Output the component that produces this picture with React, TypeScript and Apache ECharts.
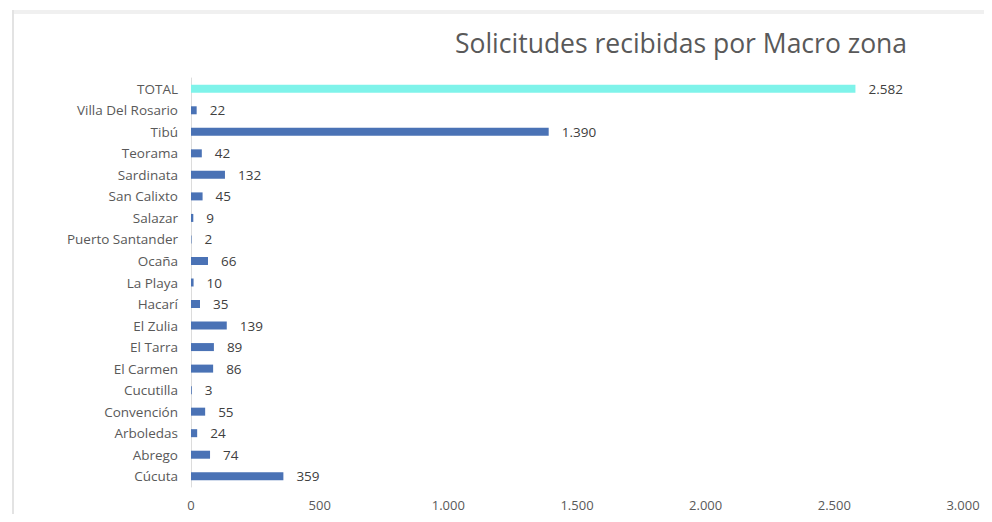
import React, { useEffect, useRef } from "react";
import * as echarts from "echarts";

const categories = [
  "Cúcuta", "Abrego", "Arboledas", "Convención", "Cucutilla", "El Carmen", "El Tarra",
  "El Zulia", "Hacarí", "La Playa", "Ocaña", "Puerto Santander", "Salazar", "San Calixto",
  "Sardinata", "Teorama", "Tibú", "Villa Del Rosario", "TOTAL",
];
const values = [359, 74, 24, 55, 3, 86, 89, 139, 35, 10, 66, 2, 9, 45, 132, 42, 1390, 22, 2582];
const xTicks = [0, 500, 1000, 1500, 2000, 2500, 3000];
const title = "Solicitudes recibidas por Macro zona";

const fmt = (v: number) => String(v).replace(/\B(?=(\d{3})+(?!\d))/g, ".");

export default function App() {
  const ref = useRef<HTMLDivElement>(null);
  useEffect(() => {
    const chart = echarts.init(ref.current!, null, { renderer: "svg" });
    const font = "'Open Sans', 'Liberation Sans', sans-serif";
    chart.setOption({
      animation: false,
      backgroundColor: "#ffffff",
      title: {
        text: title,
        left: 673,
        top: 21,
        padding: 0,
        textAlign: "center",
        textStyle: { fontFamily: font, fontSize: 26.5, fontWeight: "normal", color: "#595959" },
      },
      graphic: [
        { type: "rect", shape: { x: 4, y: 2, width: 972, height: 4 }, style: { fill: "#f0f0f0" }, silent: true },
        { type: "rect", shape: { x: 4, y: 2, width: 2, height: 504 }, style: { fill: "#e3e3e3" }, silent: true },
      ],
      grid: { left: 183, right: 21, top: 70, bottom: 27, containLabel: false },
      xAxis: {
        type: "value",
        min: xTicks[0],
        max: xTicks[xTicks.length - 1],
        interval: 500,
        axisLine: { show: false },
        axisTick: { show: false },
        splitLine: { show: false },
        axisLabel: {
          formatter: (v: number) => fmt(v),
          color: "#595959",
          fontFamily: font,
          fontSize: 13,
          margin: 11,
        },
      },
      yAxis: {
        type: "category",
        data: categories,
        axisLine: { show: true, lineStyle: { color: "#dcdcdc", width: 1 } },
        axisTick: { show: false },
        axisLabel: { color: "#595959", fontFamily: font, fontSize: 13.5, margin: 13 },
      },
      series: [
        {
          type: "bar",
          data: values.map((v, i) => ({
            value: v,
            itemStyle: { color: categories[i] === "TOTAL" ? "#7ff3ea" : "#4a72b5" },
          })),
          barWidth: 8,
          label: {
            show: true,
            position: "right",
            distance: 13,
            formatter: (p: any) => fmt(p.value),
            color: "#404040",
            fontFamily: font,
            fontSize: 13.5,
          },
        },
      ],
    });
    return () => chart.dispose();
  }, []);
  return <div ref={ref} style={{ width: 976, height: 506 }} />;
}
